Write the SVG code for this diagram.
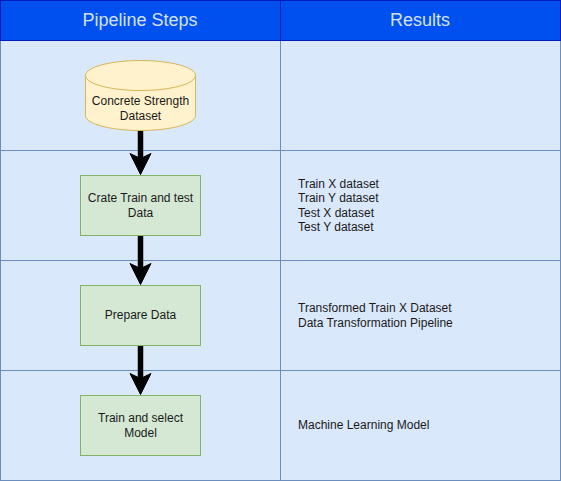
<svg xmlns="http://www.w3.org/2000/svg" width="561" height="481" viewBox="0 0 561 481">
<style>
text{font-family:"Liberation Sans",Arial,sans-serif;font-size:12px;fill:#1a1a1a}
.c{text-anchor:middle}
.h{font-size:18px;fill:#d4e1f5;text-anchor:middle}
.cell{fill:#dae8fc;stroke:#6c8ebf}
.head{fill:#0050ef;stroke:#001dbc}
.step{fill:#d5e8d4;stroke:#82b366}
.db{fill:#fff2cc;stroke:#d6b656}
.link{fill:none;stroke:#000;stroke-width:5.500}
.tip{fill:#000;stroke:#000}
</style>
<defs>
<polygon id="tip" class="tip" points="-10.500,-21 0,-16 10.500,-21 0,0"/>
</defs>
<rect width="561" height="481" fill="#fff"/>
<g id="table">
<rect class="cell" x="0.500" y="40.500" width="280" height="110"/>
<rect class="cell" x="280.500" y="40.500" width="280" height="110"/>
<rect class="cell" x="0.500" y="150.500" width="280" height="110"/>
<rect class="cell" x="280.500" y="150.500" width="280" height="110"/>
<rect class="cell" x="0.500" y="260.500" width="280" height="110"/>
<rect class="cell" x="280.500" y="260.500" width="280" height="110"/>
<rect class="cell" x="0.500" y="370.500" width="280" height="110"/>
<rect class="cell" x="280.500" y="370.500" width="280" height="110"/>
<rect class="head" x="0.500" y="0.500" width="280" height="40"/>
<rect class="head" x="280.500" y="0.500" width="280" height="40"/>
<text class="h" x="140" y="26">Pipeline Steps</text>
<text class="h" x="420" y="26">Results</text>
</g>
<g id="connectors">
<path class="link" d="M140.500 130V162"/><use href="#tip" x="140.500" y="174.500"/>
<path class="link" d="M140.500 235V272"/><use href="#tip" x="140.500" y="284.500"/>
<path class="link" d="M140.500 345V382"/><use href="#tip" x="140.500" y="394.500"/>
</g>
<g id="dataset">
<path class="db" d="M85.500 75.500C85.500 67.200 110.100 60.500 140.500 60.500C170.900 60.500 195.500 67.200 195.500 75.500V115.500C195.500 123.800 170.900 130.500 140.500 130.500C110.100 130.500 85.500 123.800 85.500 115.500Z"/>
<path class="db" style="fill:none" d="M85.500 75.500C85.500 83.800 110.100 90.500 140.500 90.500C170.900 90.500 195.500 83.800 195.500 75.500"/>
<text class="c" x="140.500" y="105">Concrete Strength</text>
<text class="c" x="140.500" y="120">Dataset</text>
</g>
<g id="train-test">
<rect class="step" x="80.500" y="175.500" width="120" height="60"/>
<text class="c" x="140.500" y="202">Crate Train and test</text>
<text class="c" x="140.500" y="217">Data</text>
</g>
<g id="prepare">
<rect class="step" x="80.500" y="285.500" width="120" height="60"/>
<text class="c" x="140.500" y="319">Prepare Data</text>
</g>
<g id="train-select">
<rect class="step" x="80.500" y="395.500" width="120" height="60"/>
<text class="c" x="140.500" y="422">Train and select</text>
<text class="c" x="140.500" y="437">Model</text>
</g>
<g id="results">
<text x="298" y="188">Train X dataset</text>
<text x="298" y="202">Train Y dataset</text>
<text x="298" y="217">Test X dataset</text>
<text x="298" y="231">Test Y dataset</text>
<text x="298" y="312">Transformed Train X Dataset</text>
<text x="298" y="327">Data Transformation Pipeline</text>
<text x="298" y="429">Machine Learning Model</text>
</g>
</svg>
